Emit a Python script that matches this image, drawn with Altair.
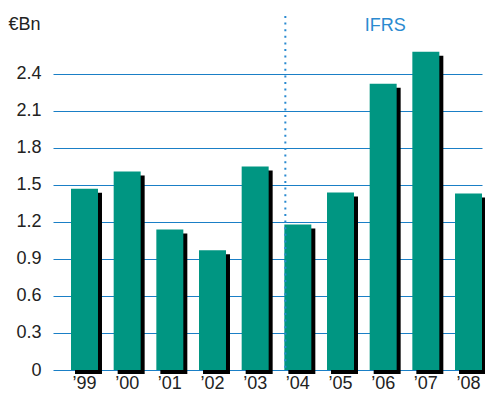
import altair as alt
import pandas as pd

years = ["’99", "’00", "’01", "’02", "’03", "’04", "’05", "’06", "’07", "’08"]
values = [1.47, 1.61, 1.14, 0.97, 1.65, 1.18, 1.44, 2.32, 2.58, 1.43]
y_ticks = [0, 0.3, 0.6, 0.9, 1.2, 1.5, 1.8, 2.1, 2.4]
divider_year = "’04"
note_year = "’06"
note_text = "IFRS"
unit_label = "€Bn"

df = pd.DataFrame({"year": years, "value": values})

FONT = "Liberation Sans"
TEAL = "#009682"
BLUE = "#1a7fc6"
DOT = "#2a8ad0"
FS = 18

xscale = alt.Scale(domain=years, paddingInner=0.3675, paddingOuter=0.211, align=1)
yscale = alt.Scale(domain=[0, 2.87], nice=False, zero=True)

x_enc = alt.X("year:N", scale=xscale, sort=years,
              axis=alt.Axis(title=None, labelAngle=0, ticks=False, domain=False,
                            labelFont=FONT, labelFontSize=FS, labelColor="#222",
                            labelPadding=4, grid=False))
y_enc = alt.Y("value:Q", scale=yscale,
              axis=alt.Axis(values=y_ticks, format=".1~f", ticks=False, domain=False,
                            grid=True, gridColor=BLUE, gridWidth=1,
                            labelFont=FONT, labelFontSize=FS, labelColor="#222",
                            labelPadding=12,
                            title=unit_label, titleAngle=0, titleAlign="left",
                            titleBaseline="alphabetic", titleX=-45, titleY=13,
                            titleFont=FONT, titleFontSize=FS, titleFontWeight="normal",
                            titleColor="#222"))

shadow = alt.Chart(df).mark_bar(color="black", xOffset=4, yOffset=4, y2Offset=4).encode(
    x=x_enc, y=y_enc)
bars = alt.Chart(df).mark_bar(color=TEAL).encode(x=alt.X("year:N", scale=xscale, sort=years),
                                                  y=alt.Y("value:Q", scale=yscale))

div_df = pd.DataFrame({"year": [divider_year]})
divider = alt.Chart(div_df).mark_rule(color=DOT, strokeWidth=2, strokeDash=[2, 4.6],
                                      xOffset=1).encode(
    x=alt.X("year:N", scale=xscale, sort=years, bandPosition=0),
    y=alt.value(0), y2=alt.value(354))

note_df = pd.DataFrame({"year": [note_year], "label": [note_text]})
note = alt.Chart(note_df).mark_text(font=FONT, fontSize=FS, color=DOT,
                                    baseline="alphabetic", dx=2).encode(
    x=alt.X("year:N", scale=xscale, sort=years, bandPosition=0.5),
    y=alt.value(15), text="label:N")

chart = alt.layer(shadow, bars, divider, note).properties(
    width=429, height=354,
    autosize=alt.AutoSizeParams(type="none"),
    padding={"left": 45, "top": 8, "right": 3, "bottom": 23},
).configure_view(stroke=None)

chart.save("out.html", embed_options={"renderer": "svg", "actions": False})
